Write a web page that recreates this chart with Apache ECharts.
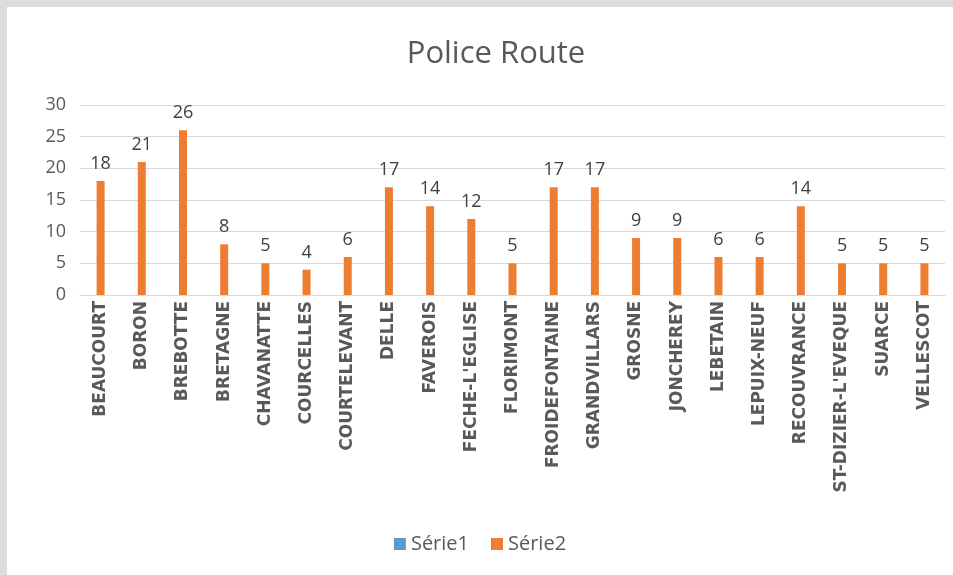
<!DOCTYPE html>
<html>
<head>
<meta charset="utf-8">
<script src="https://cdn.jsdelivr.net/npm/echarts@6/dist/echarts.min.js"></script>
<style>
  html, body { margin: 0; padding: 0; background: #dcdcdc; }
  #chart { position: absolute; left: 7px; top: 7px; width: 946px; height: 568px; background: #ffffff; }
</style>
</head>
<body>
<div id="chart"></div>
<script>
// communes
const communes = [
  "BEAUCOURT", "BORON", "BREBOTTE", "BRETAGNE", "CHAVANATTE", "COURCELLES",
  "COURTELEVANT", "DELLE", "FAVEROIS", "FECHE-L'EGLISE", "FLORIMONT",
  "FROIDEFONTAINE", "GRANDVILLARS", "GROSNE", "JONCHEREY", "LEBETAIN",
  "LEPUIX-NEUF", "RECOUVRANCE", "ST-DIZIER-L'EVEQUE", "SUARCE", "VELLESCOT"
];
const serie1 = communes.map(() => null);
const serie2 = [18, 21, 26, 8, 5, 4, 6, 17, 14, 12, 5, 17, 17, 9, 9, 6, 6, 14, 5, 5, 5];

let chart = echarts.init(document.getElementById("chart"));
let option = {
  animation: false,
  textStyle: { fontFamily: "Open Sans" },
  title: {
    text: "Police Route",
    left: 484,
    textAlign: "center",
    top: 27,
    textStyle: { color: "#595959", fontSize: 31, fontWeight: "normal", fontFamily: "Open Sans" },
  },
  legend: {
    bottom: 16,
    left: "center",
    itemWidth: 12,
    itemHeight: 12,
    itemGap: 22,
    icon: "rect",
    textStyle: { color: "#595959", fontSize: 20, fontFamily: "Open Sans" },
    data: ["Série1", "Série2"],
  },
  grid: { left: 73, right: 8, top: 98, bottom: 280 },
  xAxis: {
    type: "category",
    data: communes,
    axisLine: { lineStyle: { color: "#d9d9d9" } },
    axisTick: { show: false },
    axisLabel: {
      rotate: 90,
      interval: 0,
      margin: 6,
      color: "#595959",
      fontSize: 17,
      fontFamily: "DejaVu Sans",
      fontWeight: "bold",
    },
  },
  yAxis: {
    type: "value",
    min: 0,
    max: 30,
    interval: 5,
    axisLine: { show: false },
    axisTick: { show: false },
    splitLine: { lineStyle: { color: "#d9d9d9" } },
    axisLabel: { color: "#595959", fontSize: 18, margin: 14 },
  },
  series: [
    {
      name: "Série1",
      type: "bar",
      data: serie1,
      barWidth: 8,
      barGap: "-100%",
      itemStyle: { color: "#5b9bd5" },
    },
    {
      name: "Série2",
      type: "bar",
      data: serie2,
      barWidth: 8,
      itemStyle: { color: "#ed7d31" },
      label: {
        show: true,
        position: "top",
        distance: 8,
        color: "#404040",
        fontSize: 18,
      },
    },
  ],
};
option && chart.setOption(option);
</script>
</body>
</html>
